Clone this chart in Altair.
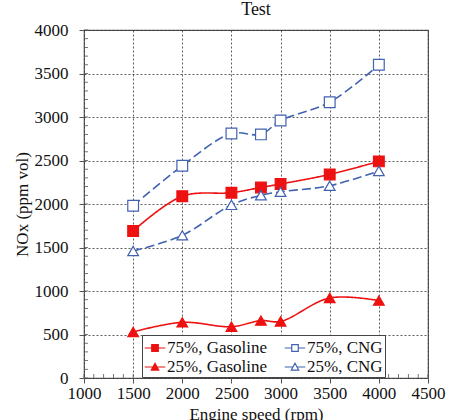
import altair as alt
import pandas as pd

speeds = [1500, 2000, 2500, 2800, 3000, 3500, 4000]
g75 = [1690, 2090, 2130, 2190, 2230, 2340, 2490]
c75 = [1980, 2440, 2810, 2800, 2960, 3170, 3600]
g25 = [530, 640, 590, 660, 650, 920, 890]
c25 = [1460, 1640, 1990, 2100, 2140, 2210, 2380]
series_names = ["75%, Gasoline", "75%, CNG", "25%, Gasoline", "25%, CNG"]
x_ticks = [1000, 1500, 2000, 2500, 3000, 3500, 4000, 4500]
y_ticks = [0, 500, 1000, 1500, 2000, 2500, 3000, 3500, 4000]
x_minor = list(range(1000, 4501, 100))
y_minor = list(range(0, 4001, 100))

rows = []
for name, vals in zip(series_names, [g75, c75, g25, c25]):
    for s, v in zip(speeds, vals):
        rows.append({"speed": s, "nox": v, "series": name, "leg": name})
df = pd.DataFrame(rows)

RED = "#ee1111"
BLUE = "#4062b0"
colors = [RED, BLUE, RED, BLUE]
FONT = "Liberation Serif"
W, H = 344, 348
FS = 17

x_scale = alt.Scale(domain=[1000, 4500], nice=False)
y_scale = alt.Scale(domain=[0, 4000], nice=False)

common = dict(labelFont=FONT, titleFont=FONT, labelFontSize=FS, titleFontSize=FS,
              labelColor="#111", titleColor="#111", titleFontWeight="normal")

xax = alt.Axis(values=x_ticks, title="Engine speed (rpm)", format="d", grid=True, gridDash=[2, 2],
               gridColor="#333", gridWidth=0.8, tickSize=5, tickColor="#555", domain=False,
               labelPadding=2, titlePadding=5, labelFlush=False, **common)
yax = alt.Axis(values=y_ticks, title="NOx (ppm vol)", format="d", grid=True, gridDash=[2, 2],
               gridColor="#333", gridWidth=0.8, tickSize=5, tickColor="#555", domain=False,
               labelPadding=11, titlePadding=3, **common)

X = alt.X("speed:Q", scale=x_scale, axis=xax)
Y = alt.Y("nox:Q", scale=y_scale, axis=yax)

color_enc = alt.Color("series:N", scale=alt.Scale(domain=series_names, range=colors), legend=None)
dash_enc = alt.StrokeDash("series:N", scale=alt.Scale(domain=series_names,
                          range=[[1, 0], [9, 4], [1, 0], [9, 4]]), legend=None)

lines = alt.Chart(df).mark_line(interpolate="catmull-rom", strokeWidth=1.6).encode(
    x=X, y=Y, color=color_enc, strokeDash=dash_enc, detail="series:N",
)

points = alt.Chart(df).mark_point(strokeWidth=1.2, opacity=1).encode(
    x=X, y=Y,
    shape=alt.Shape("series:N", scale=alt.Scale(domain=series_names,
                    range=["square", "square", "triangle-up", "triangle-up"]), legend=None),
    stroke=alt.Stroke("series:N", scale=alt.Scale(domain=series_names, range=colors), legend=None),
    fill=alt.Fill("series:N", scale=alt.Scale(domain=series_names,
                  range=[RED, "white", RED, "white"]), legend=None),
    size=alt.value(115),
)

sq = "M-1,0H-0.32M0.32,0H1M-0.32,-0.32H0.32V0.32H-0.32Z"
tri = "M-1,0H-0.19M0.19,0H1M-0.36,0.3L0,-0.36L0.36,0.3Z"
leg_order = ["75%, Gasoline", "25%, Gasoline", "75%, CNG", "25%, CNG"]
legend_layer = alt.Chart(df).transform_filter("false").mark_point(strokeWidth=1.2, opacity=1).encode(
    x=X, y=Y,
    shape=alt.Shape("leg:N", scale=alt.Scale(domain=leg_order, range=[sq, tri, sq, tri]),
                    legend=alt.Legend(title=None, orient="none", legendX=58, legendY=305,
                                      columns=2, symbolSize=420, symbolStrokeWidth=1.2,
                                      labelFont=FONT, labelFontSize=FS, labelColor="#111",
                                      labelOffset=1, columnPadding=14, rowPadding=-5,
                                      padding=2, fillColor="white", strokeColor="#444",
                                      labelLimit=300)),
    stroke=alt.Stroke("leg:N", scale=alt.Scale(domain=leg_order, range=[RED, RED, BLUE, BLUE])),
    fill=alt.Fill("leg:N", scale=alt.Scale(domain=leg_order, range=[RED, RED, "white", "white"])),
)

minor_x = alt.Chart(pd.DataFrame({"speed": x_minor})).mark_tick(
    orient="vertical", color="#555", thickness=0.8, size=4, opacity=1
).encode(x=X, y=alt.value(H - 2))
minor_y = alt.Chart(pd.DataFrame({"nox": y_minor})).mark_tick(
    orient="horizontal", color="#555", thickness=0.8, size=4, opacity=1
).encode(y=Y, x=alt.value(2))

chart = alt.layer(lines, points, legend_layer, minor_x, minor_y).resolve_scale(
    shape="independent", stroke="independent", fill="independent"
).properties(
    width=W, height=H,
    title=alt.TitleParams("Test", font=FONT, fontSize=18, fontWeight="normal", color="#111",
                          anchor="middle", offset=2),
    autosize=alt.AutoSizeParams(type="none"),
    padding={"left": 84, "top": 30, "right": 21, "bottom": 42},
    background="white",
).configure_axis(
    labelFont=FONT, labelFontSize=FS, labelColor="#111",
    titleFont=FONT, titleFontSize=FS, titleColor="#111", titleFontWeight="normal",
).configure_title(font=FONT, fontSize=18, fontWeight="normal", color="#111"
).configure_view(stroke="#555", strokeWidth=1.2)

chart.save("out.html", embed_options={"renderer": "svg", "actions": False})
